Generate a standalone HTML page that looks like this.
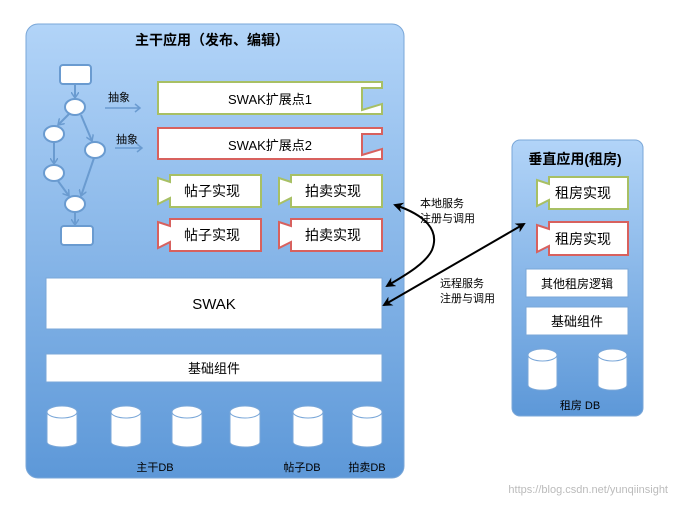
<!DOCTYPE html>
<html><head><meta charset="utf-8"><style>
body{margin:0;background:#fff;}
text{font-family:"Liberation Sans","Noto Sans CJK SC",sans-serif;}
</style></head><body>
<svg width="673" height="501" viewBox="0 0 673 501" xmlns="http://www.w3.org/2000/svg">
<defs>
<linearGradient id="g" x1="0" y1="0" x2="0" y2="1">
<stop offset="0" stop-color="#b2d4f8"/><stop offset="1" stop-color="#5d98d8"/></linearGradient>
<marker id="ah" markerWidth="10" markerHeight="10" refX="8" refY="5" orient="auto-start-reverse" markerUnits="userSpaceOnUse"><path d="M0,0 L10,5 L0,10 L3,5z" fill="#000"/></marker>
<marker id="fa" markerWidth="8" markerHeight="8" refX="6" refY="4" orient="auto" markerUnits="userSpaceOnUse"><path d="M0,0 L6,4 L0,8" fill="none" stroke="#6a9bd0" stroke-width="1.5"/></marker>
</defs>
<rect x="26" y="24" width="378" height="454" rx="12" fill="url(#g)" stroke="#7aa7d8"/>
<rect x="512" y="140" width="131" height="276" rx="8" fill="url(#g)" stroke="#7aa7d8"/>
<text x="212" y="45" font-size="14" font-weight="bold" text-anchor="middle">主干应用（发布、编辑）</text>
<text x="575" y="164" font-size="14" font-weight="bold" text-anchor="middle">垂直应用(租房)</text>
<!-- flowchart -->
<g stroke="#6a9bd0" stroke-width="2" fill="#fff">
<line x1="75" y1="84" x2="75" y2="98" marker-end="url(#fa)"/><line x1="70" y1="113" x2="58" y2="125" marker-end="url(#fa)"/><line x1="81" y1="115" x2="92" y2="141" marker-end="url(#fa)"/>
<line x1="54" y1="142" x2="54" y2="164" marker-end="url(#fa)"/><line x1="58" y1="181" x2="69" y2="196" marker-end="url(#fa)"/><line x1="94" y1="158" x2="81" y2="196" marker-end="url(#fa)"/>
<line x1="75" y1="212" x2="75" y2="225" marker-end="url(#fa)"/>
<rect x="60" y="65" width="31" height="19" rx="3"/>
<ellipse cx="75" cy="107" rx="10" ry="8"/><ellipse cx="54" cy="134" rx="10" ry="8"/><ellipse cx="95" cy="150" rx="10" ry="8"/>
<ellipse cx="54" cy="173" rx="10" ry="8"/><ellipse cx="75" cy="204" rx="10" ry="8"/>
<rect x="61" y="226" width="32" height="19" rx="3"/>
</g>
<text x="108" y="101" font-size="11">抽象</text>
<text x="116" y="143" font-size="11">抽象</text>
<g stroke="#6a9bd0" stroke-width="1.5" fill="none"><path d="M105,108 H140 M135,104 L140,108 L135,112"/><path d="M115,148 H142 M137,144 L142,148 L137,152"/></g>
<!-- extension points -->
<g stroke-width="2" fill="#fff">
<path d="M158,82 H382 V88 L362,88 V110 L382,104 V114 H158z" stroke="#a8c064"/>
<path d="M158,128 H382 V134 L362,134 V155 L382,149 V159 H158z" stroke="#d8615e"/>
<path d="M170,175 H261 V207 H170 V198 L158,204 V178 L170,182z" stroke="#a8c064"/>
<path d="M291,175 H382 V207 H291 V198 L279,204 V178 L291,182z" stroke="#a8c064"/>
<path d="M170,219 H261 V251 H170 V242 L158,248 V222 L170,226z" stroke="#d8615e"/>
<path d="M291,219 H382 V251 H291 V242 L279,248 V222 L291,226z" stroke="#d8615e"/>
<path d="M549,177 H628 V209 H549 V200 L537,206 V180 L549,184z" stroke="#a8c064"/>
<path d="M549,222 H628 V255 H549 V246 L537,252 V225 L549,229z" stroke="#d8615e"/>
</g>
<text x="270" y="104" font-size="13" text-anchor="middle">SWAK扩展点1</text>
<text x="270" y="150" font-size="13" text-anchor="middle">SWAK扩展点2</text>
<g font-size="14" text-anchor="middle">
<text x="212" y="196">帖子实现</text><text x="333" y="196">拍卖实现</text>
<text x="212" y="240">帖子实现</text><text x="333" y="240">拍卖实现</text>
<text x="583" y="198">租房实现</text><text x="583" y="244">租房实现</text>
</g>
<g fill="#fff" stroke="#7aa7d8">
<rect x="46" y="278" width="336" height="51"/>
<rect x="46" y="354" width="336" height="28"/>
<rect x="526" y="269" width="102" height="28"/>
<rect x="526" y="307" width="102" height="28"/>
</g>
<text x="214" y="309" font-size="15" text-anchor="middle">SWAK</text>
<text x="214" y="373" font-size="13" text-anchor="middle">基础组件</text>
<text x="577" y="288" font-size="12" text-anchor="middle">其他租房逻辑</text>
<text x="577" y="326" font-size="13" text-anchor="middle">基础组件</text>
<!-- cylinders -->
<g fill="#fff" stroke="#7aa7d8">
<path d="M47,412 V442 A15,5 0 0 0 77,442 V412"/><ellipse cx="62" cy="412" rx="15" ry="6"/>
<path d="M111,412 V442 A15,5 0 0 0 141,442 V412"/><ellipse cx="126" cy="412" rx="15" ry="6"/>
<path d="M172,412 V442 A15,5 0 0 0 202,442 V412"/><ellipse cx="187" cy="412" rx="15" ry="6"/>
<path d="M230,412 V442 A15,5 0 0 0 260,442 V412"/><ellipse cx="245" cy="412" rx="15" ry="6"/>
<path d="M293,412 V442 A15,5 0 0 0 323,442 V412"/><ellipse cx="308" cy="412" rx="15" ry="6"/>
<path d="M352,412 V442 A15,5 0 0 0 382,442 V412"/><ellipse cx="367" cy="412" rx="15" ry="6"/>
<path d="M528,355 V385 A14,5 0 0 0 557,385 V355"/><ellipse cx="542.5" cy="355" rx="14.5" ry="6"/>
<path d="M598,355 V385 A14,5 0 0 0 627,385 V355"/><ellipse cx="612.5" cy="355" rx="14.5" ry="6"/>
</g>
<g font-size="11" text-anchor="middle">
<text x="155" y="471">主干DB</text><text x="302" y="471">帖子DB</text><text x="367" y="471">拍卖DB</text>
<text x="580" y="409">租房  DB</text>
</g>
<!-- arrows -->
<g stroke="#000" stroke-width="2" fill="none">
<path d="M395,205 C425,215 440,230 432,250 C425,265 400,278 387,286" marker-start="url(#ah)" marker-end="url(#ah)"/>
<path d="M384,305 L524,224" marker-start="url(#ah)" marker-end="url(#ah)"/>
</g>
<g font-size="11">
<text x="420" y="207">本地服务</text><text x="420" y="222">注册与调用</text>
<text x="440" y="287">远程服务</text><text x="440" y="302">注册与调用</text>
</g>
<text x="668" y="493" font-size="11" fill="#bbb" text-anchor="end">https://blog.csdn.net/yunqiinsight</text>
</svg>
</body></html>
